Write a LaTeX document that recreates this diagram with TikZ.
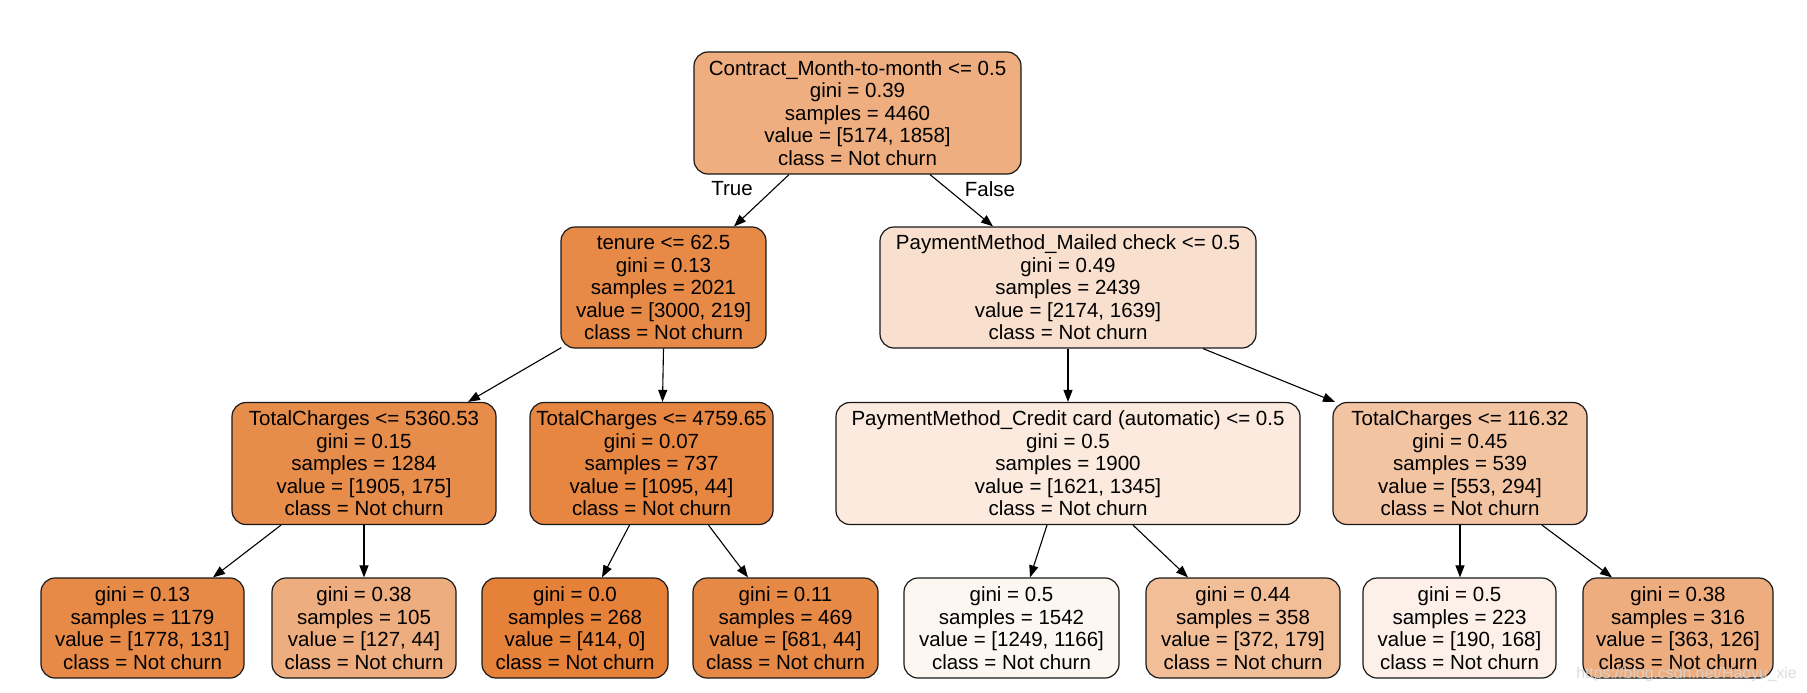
\documentclass[tikz,border=0pt]{standalone}
\usepackage{fontspec}
\setmainfont{Liberation Sans}
\usetikzlibrary{arrows.meta}
\definecolor{cRoot}{RGB}{238,174,128}
\definecolor{cTen}{RGB}{231,138,71}
\definecolor{cMail}{RGB}{249,224,206}
\definecolor{cTCa}{RGB}{231,141,75}
\definecolor{cTCb}{RGB}{230,134,65}
\definecolor{cCred}{RGB}{251,234,221}
\definecolor{cTCc}{RGB}{243,196,162}
\definecolor{cLa}{RGB}{231,138,72}
\definecolor{cLb}{RGB}{238,173,126}
\definecolor{cLc}{RGB}{229,129,57}
\definecolor{cLd}{RGB}{231,137,70}
\definecolor{cLe}{RGB}{253,247,242}
\definecolor{cLf}{RGB}{242,190,152}
\definecolor{cLg}{RGB}{252,240,232}
\definecolor{cLh}{RGB}{238,173,126}
\tikzset{
  treenode/.style={draw=black!90, line width=1.2pt, rounded corners=14pt, align=center,
    inner sep=0pt, font=\fontsize{20.5}{22.5}\selectfont},
  inner/.style={treenode, minimum height=122pt},
  leaf/.style={treenode, minimum height=100pt},
  edge/.style={line width=1.1pt, -{Triangle[length=12pt,width=9pt]}},
  elabel/.style={font=\fontsize{20.5}{22.5}\selectfont},
}
\begin{document}
\begin{tikzpicture}[x=1pt,y=-1pt]
\useasboundingbox (0,0) rectangle (1807,693);
\fill[white] (0,0) rectangle (1807,693);
% level 0
\node[inner, fill=cRoot, minimum width=327pt] (root) at (857.5,113) {Contract\_Month-to-month <= 0.5\\gini = 0.39\\samples = 4460\\value = [5174, 1858]\\class = Not churn};
% level 1
\node[inner, fill=cTen, minimum width=205pt, minimum height=121pt] (ten) at (663.5,287.5) {tenure <= 62.5\\gini = 0.13\\samples = 2021\\value = [3000, 219]\\class = Not churn};
\node[inner, fill=cMail, minimum width=376pt, minimum height=121pt] (mail) at (1068,287.5) {PaymentMethod\_Mailed check <= 0.5\\gini = 0.49\\samples = 2439\\value = [2174, 1639]\\class = Not churn};
% level 2
\node[inner, fill=cTCa, minimum width=264pt] (tca) at (364,463.5) {TotalCharges <= 5360.53\\gini = 0.15\\samples = 1284\\value = [1905, 175]\\class = Not churn};
\node[inner, fill=cTCb, minimum width=243pt] (tcb) at (651.5,463.5) {TotalCharges <= 4759.65\\gini = 0.07\\samples = 737\\value = [1095, 44]\\class = Not churn};
\node[inner, fill=cCred, minimum width=464pt] (cred) at (1068,463.5) {PaymentMethod\_Credit card (automatic) <= 0.5\\gini = 0.5\\samples = 1900\\value = [1621, 1345]\\class = Not churn};
\node[inner, fill=cTCc, minimum width=254pt] (tcc) at (1460,463.5) {TotalCharges <= 116.32\\gini = 0.45\\samples = 539\\value = [553, 294]\\class = Not churn};
% leaves
\node[leaf, fill=cLa, minimum width=203pt] (la) at (142.5,628) {gini = 0.13\\samples = 1179\\value = [1778, 131]\\class = Not churn};
\node[leaf, fill=cLb, minimum width=184pt] (lb) at (364,628) {gini = 0.38\\samples = 105\\value = [127, 44]\\class = Not churn};
\node[leaf, fill=cLc, minimum width=186pt] (lc) at (575,628) {gini = 0.0\\samples = 268\\value = [414, 0]\\class = Not churn};
\node[leaf, fill=cLd, minimum width=185pt] (ld) at (785.5,628) {gini = 0.11\\samples = 469\\value = [681, 44]\\class = Not churn};
\node[leaf, fill=cLe, minimum width=215pt] (le) at (1011.5,628) {gini = 0.5\\samples = 1542\\value = [1249, 1166]\\class = Not churn};
\node[leaf, fill=cLf, minimum width=194pt] (lf) at (1243,628) {gini = 0.44\\samples = 358\\value = [372, 179]\\class = Not churn};
\node[leaf, fill=cLg, minimum width=193pt] (lg) at (1459.5,628) {gini = 0.5\\samples = 223\\value = [190, 168]\\class = Not churn};
\node[leaf, fill=cLh, minimum width=190pt] (lh) at (1678,628) {gini = 0.38\\samples = 316\\value = [363, 126]\\class = Not churn};
% edges
\draw[edge] ([xshift=-68.5pt]root.south) -- ([xshift=70.5pt]ten.north);
\draw[edge] ([xshift=72.5pt]root.south) -- ([xshift=-75pt]mail.north);
\draw[edge] ([xshift=1pt,yshift=1pt]ten.south west) -- ([xshift=104pt]tca.north);
\draw[edge] (ten.south) -- ([xshift=11pt]tcb.north);
\draw[edge] (mail.south) -- (cred.north);
\draw[edge] ([xshift=135pt]mail.south) -- ([xshift=-125pt]tcc.north);
\draw[edge] ([xshift=-83pt]tca.south) -- ([xshift=70.5pt]la.north);
\draw[edge] (tca.south) -- (lb.north);
\draw[edge] ([xshift=-22pt]tcb.south) -- ([xshift=27pt]lc.north);
\draw[edge] ([xshift=57pt]tcb.south) -- ([xshift=-37.5pt]ld.north);
\draw[edge] ([xshift=-21pt]cred.south) -- ([xshift=18.5pt]le.north);
\draw[edge] ([xshift=65pt]cred.south) -- ([xshift=-55pt]lf.north);
\draw[edge] (tcc.south) -- ([xshift=0.5pt]lg.north);
\draw[edge] ([xshift=82pt]tcc.south) -- ([xshift=-66pt]lh.north);
% edge labels
\node[elabel] (ltrue) at (732,189) {True};
\node[elabel] (lfalse) at (990,189) {False};
% watermark
\node[font=\fontsize{15.8}{18}\selectfont, text=white!84!black, text opacity=0.85] (wm) at (1686.5,674) {https://blog.csdn.net/Haoyu\_xie};
\end{tikzpicture}
\end{document}
